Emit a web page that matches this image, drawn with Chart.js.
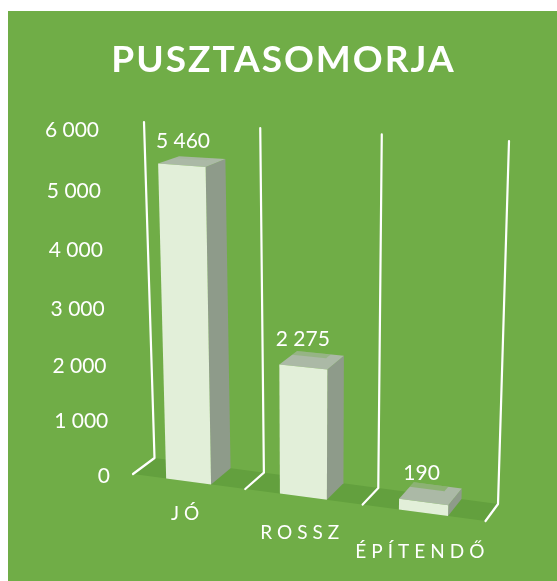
<!DOCTYPE html>
<html><head><meta charset="utf-8">
<style>html,body{margin:0;padding:0;background:#fff}canvas{display:block}</style>
<script src="https://cdn.jsdelivr.net/npm/chart.js@4/dist/chart.umd.js"></script>
</head><body><canvas id="c" width="557" height="581"></canvas>
<script>
const chartTitle = 'PUSZTASOMORJA';
const categories = ['JÓ', 'ROSSZ', 'ÉPÍTENDŐ'];
const values = [5460, 2275, 190];
const axisMax = 6000;
const axisStep = 1000;

const FONT = 'Lato, Carlito, sans-serif';
const GREEN = '#70ad47', FLOOR = '#63a03e', WHITE = '#ffffff';
const FRONT = '#e2efd9', SIDE = '#8e9b8a', TOP = '#abb9a6';

// camera: corners of the chart box on the page  [floor / ceiling][front / back][left / right]
const BOX = {
  f0l:[133,474], f0r:[485.5,521], f1l:[154.5,458], f1r:[498,504],
  c0l:[122,128], c0r:[497,152],  c1l:[144,122],   c1r:[509,141]
};
const PERSP = 1.07;
const foreshorten = f => f / (f + (1 - f) * PERSP);
const mix = (a, b, t) => [a[0] + (b[0] - a[0]) * t, a[1] + (b[1] - a[1]) * t];
// t: across (0-1), s: up (0-1), w: depth (0 front, 1 back)
function project(t, s, w) {
  const floor = mix(mix(BOX.f0l, BOX.f0r, t), mix(BOX.f1l, BOX.f1r, t), w);
  const ceil  = mix(mix(BOX.c0l, BOX.c0r, t), mix(BOX.c1l, BOX.c1r, t), w);
  return mix(floor, ceil, s);
}
const acrossOf = (scale, px) => foreshorten((px - scale.left) / (scale.right - scale.left));
const upOf = (scale, px) => foreshorten((scale.bottom - px) / (scale.bottom - scale.top));

class PerspectiveValueScale extends Chart.LinearScale {
  static id = 'perspectiveValue';
  static defaults = {};
  _computeLabelArea() { return undefined; }
  _computeLabelItems(area) {
    const items = super._computeLabelItems(area);
    items.forEach((item, i) => {
      const s = upOf(this, this.getPixelForTick(i));
      const p = project(0, s, 0);
      item.options.translation = [p[0] - 23, p[1] + 2];
      item.options.textAlign = 'right';
      item.options.textBaseline = 'middle';
      item.textOffset = 0;
    });
    return items;
  }
  drawLabels(area) {
    const ctx = this.ctx; ctx.save(); ctx.letterSpacing = '0px';
    super.drawLabels(area); ctx.restore();
  }
}
class PerspectiveCategoryScale extends Chart.CategoryScale {
  static id = 'perspectiveCategory';
  static defaults = {};
  _computeLabelArea() { return undefined; }
  _computeLabelItems(area) {
    const items = super._computeLabelItems(area);
    items.forEach((item, i) => {
      const t = acrossOf(this, this.getPixelForTick(i));
      const p = project(t, 0, 0);
      item.options.translation = [p[0] - 1, p[1] + 31 + 10 * t];
      item.options.textAlign = 'center';
      item.options.textBaseline = 'middle';
      item.textOffset = 0;
    });
    return items;
  }
  drawLabels(area) {
    const ctx = this.ctx; ctx.save(); ctx.letterSpacing = '5px';
    super.drawLabels(area); ctx.restore();
  }
}
Chart.register(PerspectiveValueScale, PerspectiveCategoryScale);

function poly(ctx, pts, fill) {
  ctx.beginPath();
  pts.forEach((p, i) => i ? ctx.lineTo(p[0], p[1]) : ctx.moveTo(p[0], p[1]));
  ctx.closePath(); ctx.fillStyle = fill; ctx.fill();
}

const box3d = {
  id: 'box3d',
  beforeDraw(chart) {
    const ctx = chart.ctx;
    ctx.save();
    ctx.fillStyle = '#fff'; ctx.fillRect(0, 0, chart.width, chart.height);
    ctx.fillStyle = GREEN; ctx.fillRect(8, 11, chart.width - 8, chart.height - 11);
    ctx.restore();
    ctx.letterSpacing = '2px'; // title
  },
  beforeDatasetsDraw(chart) {
    const ctx = chart.ctx, x = chart.scales.x;
    ctx.save();
    ctx.letterSpacing = '0px';
    poly(ctx, [project(0,0,0), project(1,0,0), project(1,0,1), project(0,0,1)], FLOOR);
    ctx.strokeStyle = WHITE; ctx.lineWidth = 2.2; ctx.lineCap = 'round'; ctx.lineJoin = 'round';
    const n = x.ticks.length, band = (x.right - x.left) / n;
    for (let i = 0; i <= n; i++) {
      const t = acrossOf(x, x.left + band * i);
      const a = project(t, 0, 0), b = project(t, 0, 1), c = project(t, 1, 1);
      ctx.beginPath(); ctx.moveTo(a[0], a[1]); ctx.lineTo(b[0], b[1]); ctx.lineTo(c[0], c[1]); ctx.stroke();
    }
    ctx.restore();
  },
  beforeDatasetDraw(chart, args) {
    const ctx = chart.ctx, x = chart.scales.x, y = chart.scales.y;
    const meta = args.meta;
    ctx.save();
    meta.data.forEach(bar => {
      const p = bar.getProps(['x', 'y', 'base', 'width'], true);
      const tl = acrossOf(x, p.x - p.width / 2), tr = acrossOf(x, p.x + p.width / 2);
      const st = upOf(y, p.y), sb = upOf(y, p.base);
      poly(ctx, [project(tr,sb,0), project(tr,sb,1), project(tr,st,1), project(tr,st,0)], SIDE);
      poly(ctx, [project(tl,st,0), project(tr,st,0), project(tr,st,1), project(tl,st,1)], TOP);
      // greener sheen on the rear of the top face, stronger on the lower bars
      const tm = tl + (tr - tl) * 0.72;
      poly(ctx, [project(tl,st,0.72), project(tm,st,0.72), project(tm,st,1), project(tl,st,1)],
        'rgba(112,173,71,' + (0.55 * (1 - st)).toFixed(3) + ')');
      poly(ctx, [project(tl,sb,0), project(tr,sb,0), project(tr,st,0), project(tl,st,0)], FRONT);
    });
    ctx.restore();
    return false;
  },
  afterDatasetsDraw(chart) {
    const ctx = chart.ctx, x = chart.scales.x, y = chart.scales.y;
    ctx.save();
    ctx.letterSpacing = '0px';
    ctx.font = '21px ' + FONT; ctx.fillStyle = WHITE;
    ctx.textAlign = 'center'; ctx.textBaseline = 'middle';
    chart.getDatasetMeta(0).data.forEach((bar, i) => {
      const p = bar.getProps(['x', 'y'], true);
      const q = project(acrossOf(x, p.x), upOf(y, p.y), 0.5);
      ctx.fillText(fmt(values[i]), q[0] - 9, q[1] - 20.5);
    });
    ctx.restore();
  }
};
function fmt(v) { return String(v).replace(/\B(?=(\d{3})+$)/g, ' '); }

new Chart(document.getElementById('c'), {
  type: 'bar',
  data: { labels: categories, datasets: [{ data: values, backgroundColor: FRONT,
    categoryPercentage: 1, barPercentage: 0.4 }] },
  plugins: [box3d],
  options: {
    responsive: false, animation: false,
    layout: { padding: { left: 10, right: 0, top: 0, bottom: 0 } },
    plugins: {
      legend: { display: false }, tooltip: { enabled: false },
      title: { display: true, text: chartTitle, color: WHITE,
        font: { family: FONT, size: 37, weight: 'bold' }, padding: { top: 38, bottom: 10 } }
    },
    scales: {
      x: { type: 'perspectiveCategory', offset: true, grid: { display: false }, border: { display: false },
        ticks: { color: WHITE, font: { family: FONT, size: 19 }, maxRotation: 0, autoSkip: false } },
      y: { type: 'perspectiveValue', min: 0, max: axisMax, grid: { display: false }, border: { display: false },
        ticks: { stepSize: axisStep, color: WHITE, font: { family: FONT, size: 21 }, callback: v => fmt(v) } }
    }
  }
});
</script></body></html>
